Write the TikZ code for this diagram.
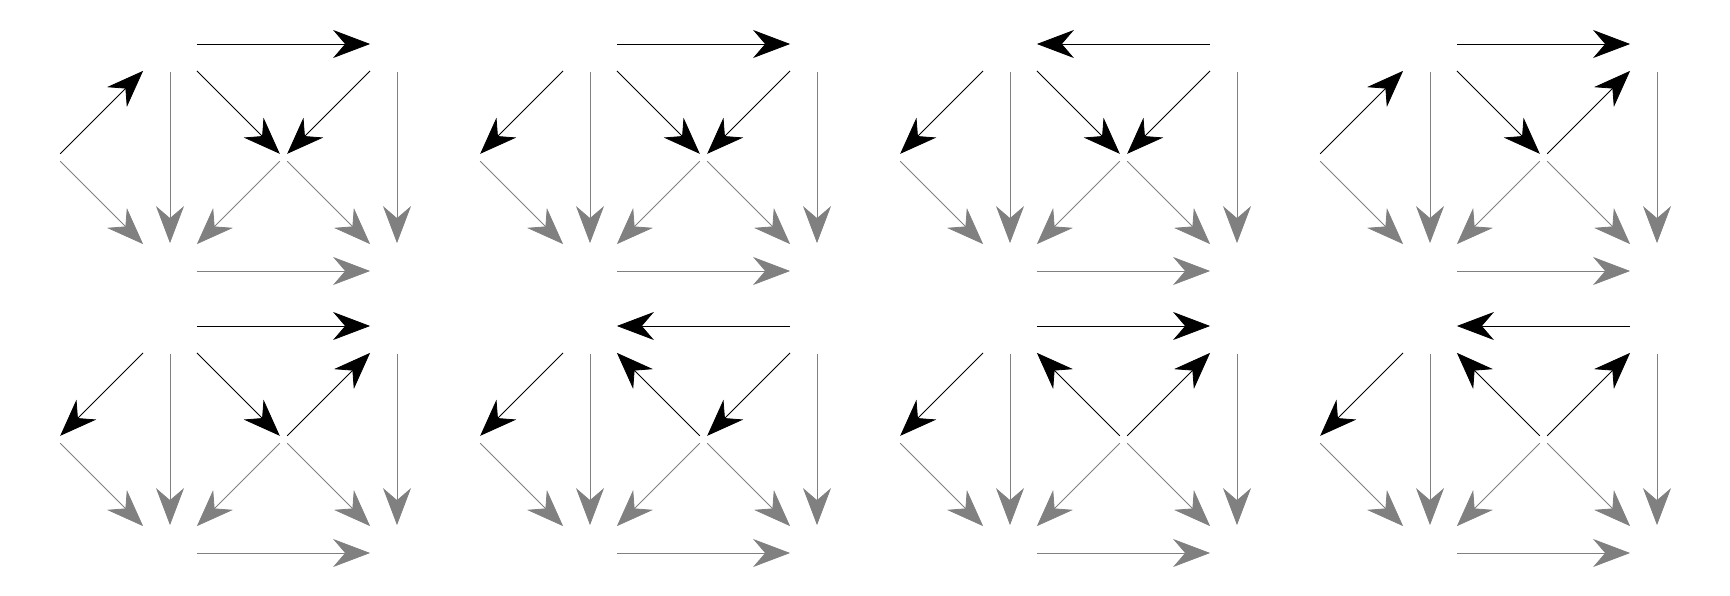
\documentclass[tikz,border=0pt]{standalone}
\usetikzlibrary{arrows.meta}
\tikzset{
  bignode/.style={rectangle, inner sep=0pt, minimum width=53.4pt, minimum height=55.4pt},
  smallnode/.style={rectangle, inner sep=0pt, minimum size=7pt},
  blk/.style={draw=black, line width=0.8pt},
  gry/.style={draw=gray, line width=0.8pt, ->},
}
\newcommand{\cubediagram}[7]{%
  \begin{scope}[shift={(#2,#3)}]
    \node[bignode] (#1A) at (0,0) {};
    \node[bignode] (#1B) at (227,0) {};
    \node[smallnode] (#1C) at (113.5,-113.5) {};
    \node[smallnode] (#1L) at (-113.5,-113.5) {};
    \node[bignode] (#1D) at (0,-227) {};
    \node[bignode] (#1E) at (227,-227) {};
    \draw[gry] (#1L) -- (#1D);
    \draw[gry] (#1A) -- (#1D);
    \draw[gry] (#1C) -- (#1D);
    \draw[gry] (#1C) -- (#1E);
    \draw[gry] (#1B) -- (#1E);
    \draw[gry] (#1D) -- (#1E);
    \draw[blk,#4] (#1A) -- (#1B);
    \draw[blk,#5] (#1A) -- (#1L);
    \draw[blk,#6] (#1A) -- (#1C);
    \draw[blk,#7] (#1B) -- (#1C);
  \end{scope}}
\begin{document}
\begin{tikzpicture}[x=1pt,y=1pt,>={Stealth[length=37pt,width=28pt,inset=12pt]}]
  \useasboundingbox (0,0) rectangle (1730,-595);
  \cubediagram{a}{170}{-44}{->}{<-}{->}{->}
  \cubediagram{b}{590}{-44}{->}{->}{->}{->}
  \cubediagram{c}{1010}{-44}{<-}{->}{->}{->}
  \cubediagram{d}{1430}{-44}{->}{<-}{->}{<-}
  \cubediagram{e}{170}{-326}{->}{->}{->}{<-}
  \cubediagram{f}{590}{-326}{<-}{->}{<-}{->}
  \cubediagram{g}{1010}{-326}{->}{->}{<-}{<-}
  \cubediagram{h}{1430}{-326}{<-}{->}{<-}{<-}
\end{tikzpicture}
\end{document}
